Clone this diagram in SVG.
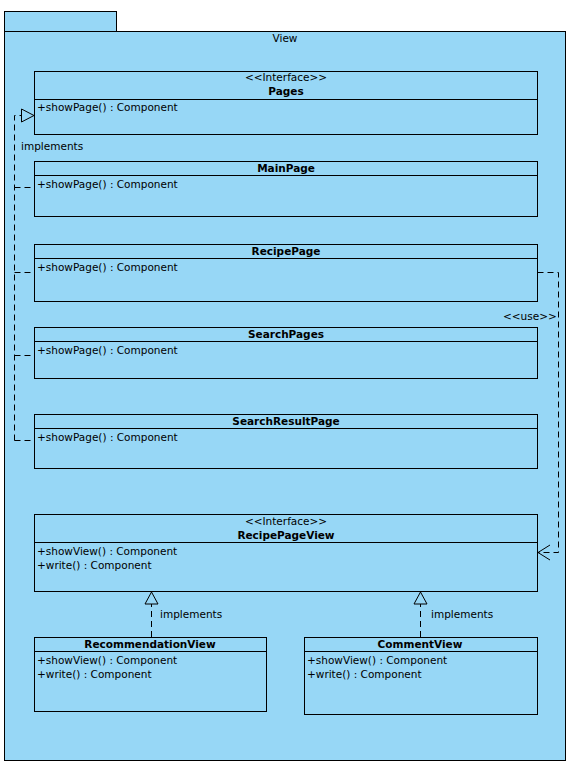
<svg xmlns="http://www.w3.org/2000/svg" width="574" height="767" viewBox="0 0 574 767">
<style>
.pk{fill:#97D7F6;stroke:#000;stroke-width:1}
.bx{fill:#97D7F6;stroke:#000;stroke-width:1}
.ln{stroke:#000;stroke-width:1;fill:none}
.ds{stroke:#000;stroke-width:1;fill:none;stroke-dasharray:6,4}
text{font-family:"DejaVu Sans","Liberation Sans",sans-serif;font-size:10.5px;fill:#000}
.b{font-weight:bold;text-anchor:middle}
.c{text-anchor:middle}
</style>
<g id="View">
<rect class="pk" x="4.5" y="11.5" width="112" height="20"/>
<rect class="pk" x="4.5" y="31.5" width="561" height="729"/>
<text class="c" x="285" y="42">View</text>
</g>
<g id="Pages">
<rect class="bx" x="34.5" y="71.5" width="503" height="63"/>
<line class="ln" x1="34.5" y1="99.5" x2="537.5" y2="99.5"/>
<text class="c" x="286" y="81">&lt;&lt;Interface&gt;&gt;</text>
<text class="b" x="286" y="95">Pages</text>
<text x="37" y="111">+showPage() : Component</text>
</g>
<g id="MainPage">
<rect class="bx" x="34.5" y="161.5" width="503" height="55"/>
<line class="ln" x1="34.5" y1="175.5" x2="537.5" y2="175.5"/>
<text class="b" x="286" y="172">MainPage</text>
<text x="37" y="188">+showPage() : Component</text>
</g>
<g id="RecipePage">
<rect class="bx" x="34.5" y="244.5" width="503" height="57"/>
<line class="ln" x1="34.5" y1="258.5" x2="537.5" y2="258.5"/>
<text class="b" x="286" y="255">RecipePage</text>
<text x="37" y="271">+showPage() : Component</text>
</g>
<g id="SearchPages">
<rect class="bx" x="34.5" y="327.5" width="503" height="51"/>
<line class="ln" x1="34.5" y1="341.5" x2="537.5" y2="341.5"/>
<text class="b" x="286" y="338">SearchPages</text>
<text x="37" y="354">+showPage() : Component</text>
</g>
<g id="SearchResultPage">
<rect class="bx" x="34.5" y="414.5" width="503" height="54"/>
<line class="ln" x1="34.5" y1="428.5" x2="537.5" y2="428.5"/>
<text class="b" x="286" y="425">SearchResultPage</text>
<text x="37" y="441">+showPage() : Component</text>
</g>
<g id="RecipePageView">
<rect class="bx" x="34.5" y="514.5" width="503" height="77"/>
<line class="ln" x1="34.5" y1="542.5" x2="537.5" y2="542.5"/>
<text class="c" x="286" y="525">&lt;&lt;Interface&gt;&gt;</text>
<text class="b" x="286" y="539">RecipePageView</text>
<text x="37" y="555">+showView() : Component</text>
<text x="37" y="569">+write() : Component</text>
</g>
<g id="RecommendationView">
<rect class="bx" x="34.5" y="637.5" width="232" height="74"/>
<line class="ln" x1="34.5" y1="651.5" x2="266.5" y2="651.5"/>
<text class="b" x="150" y="648">RecommendationView</text>
<text x="37" y="664">+showView() : Component</text>
<text x="37" y="678">+write() : Component</text>
</g>
<g id="CommentView">
<rect class="bx" x="304.5" y="637.5" width="233" height="77"/>
<line class="ln" x1="304.5" y1="651.5" x2="537.5" y2="651.5"/>
<text class="b" x="420" y="648">CommentView</text>
<text x="307" y="664">+showView() : Component</text>
<text x="307" y="678">+write() : Component</text>
</g>
<g id="connectors">
<path class="ds" d="M14.5 440.5 V115.5 H21"/>
<path class="ds" d="M14.5 187.5 H34"/>
<path class="ds" d="M14.5 272.5 H34"/>
<path class="ds" d="M14.5 355.5 H34"/>
<path class="ds" d="M14.5 440.5 H34"/>
<polygon class="ln" points="34,115.5 21.5,109 21.5,122"/>
<text x="21" y="150">implements</text>
<path class="ds" d="M537.5 272.5 H558.5 V552.5 H538"/>
<path class="ln" d="M550 545 L538 552.5 L550 560"/>
<text x="503" y="320">&lt;&lt;use&gt;&gt;</text>
<path class="ds" d="M151.5 637 V604"/>
<polygon class="ln" points="151.5,592 145,604 158,604"/>
<text x="160" y="618">implements</text>
<path class="ds" d="M420.5 637 V604"/>
<polygon class="ln" points="420.5,592 414,604 427,604"/>
<text x="431" y="618">implements</text>
</g>
</svg>
